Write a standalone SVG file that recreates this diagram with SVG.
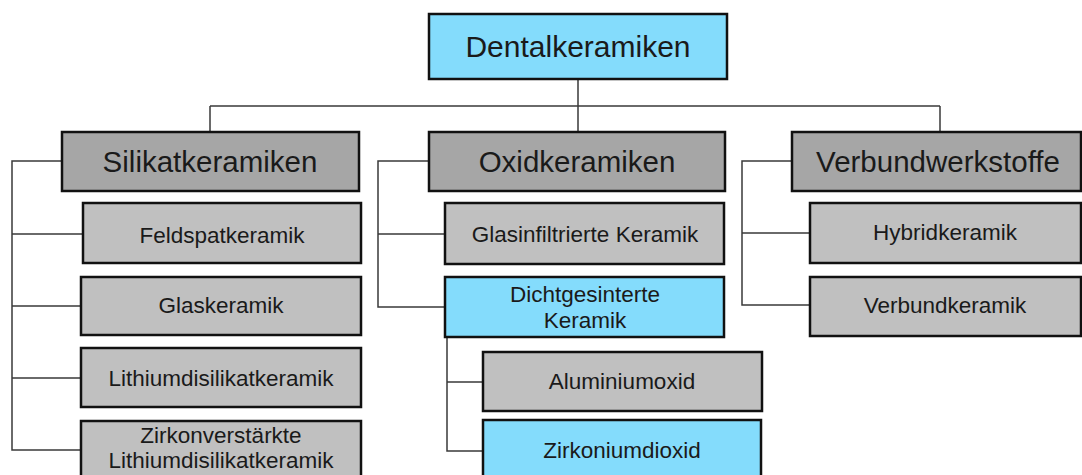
<svg xmlns="http://www.w3.org/2000/svg" width="1082" height="475" viewBox="0 0 1082 475">
<style>
.box{stroke:#111;stroke-width:2.5}
.blue{fill:#84dcfc}
.dark{fill:#a6a6a6}
.light{fill:#c0c0c0}
.t{font-family:"Liberation Sans",Arial,sans-serif;fill:#1a1a1a;text-anchor:middle}
.big{font-size:29.5px}
.sm{font-size:22.5px}
.conn{fill:none;stroke:#3a3a3a;stroke-width:1.5}
</style>
<rect width="1082" height="475" fill="#ffffff"/>
<g id="connectors">
<path class="conn" d="M578,79 V132 M210,106 H940 M210,106 V132 M940,106 V132"/>
<path class="conn" d="M62,161 H12 V450 H81 M12,234 H83 M12,306 H81 M12,378 H81"/>
<path class="conn" d="M429,161 H378 V307 H445 M378,234 H445"/>
<path class="conn" d="M447,337 V451 H483 M447,382 H483"/>
<path class="conn" d="M792,161 H742 V305 H810 M742,233 H810"/>
</g>
<g id="n-dentalkeramiken"><rect class="box blue" x="429" y="14" width="298" height="65"/><text class="t" x="578" y="57" font-size="30">Dentalkeramiken</text></g>
<g id="n-silikatkeramiken"><rect class="box dark" x="62" y="132" width="297" height="59"/><text class="t big" x="210" y="172">Silikatkeramiken</text></g>
<g id="n-oxidkeramiken"><rect class="box dark" x="429" y="132" width="296" height="59"/><text class="t big" x="577" y="172">Oxidkeramiken</text></g>
<g id="n-verbundwerkstoffe"><rect class="box dark" x="792" y="132" width="289" height="59"/><text class="t big" x="938" y="172">Verbundwerkstoffe</text></g>
<g id="n-feldspatkeramik"><rect class="box light" x="83" y="203" width="278" height="60"/><text class="t sm" x="222" y="243">Feldspatkeramik</text></g>
<g id="n-glaskeramik"><rect class="box light" x="81" y="277" width="280" height="58"/><text class="t sm" x="221" y="313">Glaskeramik</text></g>
<g id="n-lithiumdisilikatkeramik"><rect class="box light" x="81" y="348" width="280" height="59"/><text class="t sm" x="221" y="386">Lithiumdisilikatkeramik</text></g>
<g id="n-zirkonverstaerkte"><rect class="box light" x="81" y="421" width="280" height="62"/><text class="t sm" x="221" y="443">Zirkonverstärkte</text><text class="t sm" x="221" y="468">Lithiumdisilikatkeramik</text></g>
<g id="n-glasinfiltrierte"><rect class="box light" x="445" y="203" width="279" height="61"/><text class="t sm" x="585" y="242">Glasinfiltrierte Keramik</text></g>
<g id="n-dichtgesinterte"><rect class="box blue" x="445" y="277" width="279" height="60"/><text class="t sm" x="585" y="302">Dichtgesinterte</text><text class="t sm" x="585" y="328">Keramik</text></g>
<g id="n-aluminiumoxid"><rect class="box light" x="483" y="352" width="279" height="59"/><text class="t sm" x="622" y="389">Aluminiumoxid</text></g>
<g id="n-zirkoniumdioxid"><rect class="box blue" x="483" y="420" width="278" height="62"/><text class="t sm" x="622" y="458">Zirkoniumdioxid</text></g>
<g id="n-hybridkeramik"><rect class="box light" x="810" y="203" width="271" height="60"/><text class="t sm" x="945" y="240">Hybridkeramik</text></g>
<g id="n-verbundkeramik"><rect class="box light" x="810" y="277" width="271" height="59"/><text class="t sm" x="945" y="313">Verbundkeramik</text></g>
</svg>
